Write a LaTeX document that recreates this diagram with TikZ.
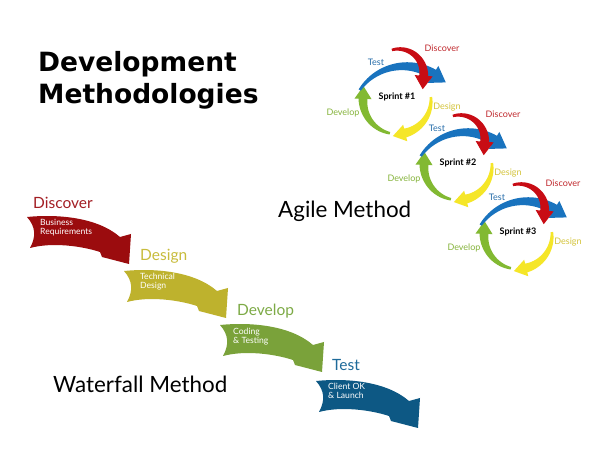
\documentclass[tikz,border=0pt]{standalone}
\usepackage{fontspec}
\setmainfont{Lato}
\newfontfamily\titlefont{DejaVu Sans}
\definecolor{wfred}{RGB}{155,12,14}
\definecolor{wfredl}{RGB}{163,30,36}
\definecolor{wfolive}{RGB}{190,178,45}
\definecolor{wfolivel}{RGB}{200,188,60}
\definecolor{wfgreen}{RGB}{122,162,58}
\definecolor{wfgreenl}{RGB}{125,170,70}
\definecolor{wfblue}{RGB}{13,88,132}
\definecolor{wfbluel}{RGB}{30,106,154}
\definecolor{agblue}{RGB}{25,115,190}
\definecolor{agred}{RGB}{200,12,20}
\definecolor{agyellow}{RGB}{245,230,40}
\definecolor{aggreen}{RGB}{130,185,50}
\definecolor{agbluel}{RGB}{40,110,170}
\definecolor{agredl}{RGB}{192,40,45}
\definecolor{agyellowl}{RGB}{212,196,58}
\definecolor{aggreenl}{RGB}{134,180,60}
% tapered arc arrow: color, cx, cy, r, a1, a2, w0, w1, head half width
\newcommand\agarrow[9]{%
 \fill[#1] plot[domain=0:1,samples=25,variable=\t]
   ({#2+(#4+(#7+(#8-#7)*\t)/2)*cos(#5+(#6-#5)*\t)},{#3+(#4+(#7+(#8-#7)*\t)/2)*sin(#5+(#6-#5)*\t)})
 -- ({#2+(#4+#9)*cos(#6)},{#3+(#4+#9)*sin(#6)})
 -- ({#2+#4*cos(#6)+1.5*#9*cos(#6-90)},{#3+#4*sin(#6)+1.5*#9*sin(#6-90)})
 -- ({#2+(#4-#9)*cos(#6)},{#3+(#4-#9)*sin(#6)})
 -- plot[domain=1:0,samples=25,variable=\t]
   ({#2+(#4-(#7+(#8-#7)*\t)/2)*cos(#5+(#6-#5)*\t)},{#3+(#4-(#7+(#8-#7)*\t)/2)*sin(#5+(#6-#5)*\t)})
 -- cycle;}
\tikzset{
  wfarrow/.pic={\fill[#1] (0,0) .. controls (30,3) and (70,0) .. (93,-20) -- (104,-17)
     -- (102,-47) -- (75,-40) -- (73,-35) .. controls (55,-29) and (25,-25) .. (3,-31)
     .. controls (9,-20) and (9,-10) .. (0,0) -- cycle;},
  wflabel/.style={anchor=base west, inner sep=0, font=\fontsize{15.5}{17}\selectfont},
  wfinner/.style={anchor=north west, inner sep=0, align=left, text=white, font=\fontsize{8.6}{9}\selectfont},
  aglabel/.style={inner sep=0, font=\fontsize{9}{10}\selectfont},
  bigtitle/.style={anchor=base west, inner sep=0, font=\titlefont\bfseries\fontsize{26.5}{30}\selectfont},
  method/.style={anchor=base west, inner sep=0, font=\fontsize{22.4}{26}\selectfont},
  sprint/.pic={
    \agarrow{aggreen}{0}{-3}{34}{258}{178}{2.5}{9}{8.5}
    \agarrow{agblue}{7.45}{-23.25}{54}{146}{58}{2.5}{11}{10}
    \agarrow{agyellow}{0}{-3}{34}{5}{-76}{2.5}{9}{8.5}
    \agarrow{agred}{1.75}{23}{25}{106}{-4}{2.5}{9}{9}
    \node[aglabel, text=black, font=\fontsize{9}{10}\selectfont\bfseries] (-sp) at (0,0) {Sprint \##1};
    \node[aglabel, text=agbluel] (-te) at (-21,35) {Test};
    \node[aglabel, text=agredl] (-di) at (45,49) {Discover};
    \node[aglabel, text=agyellowl] (-de) at (50,-10) {Design};
    \node[aglabel, text=aggreenl] (-dv) at (-54,-16) {Develop};
  }
}
\begin{document}
\begin{tikzpicture}[x=1pt,y=1pt]
\useasboundingbox (0,0) rectangle (600,450);
\fill[white] (0,0) rectangle (600,450);
% title
\node[bigtitle] (t1) at (38,378) {Development};
\node[bigtitle] (t2) at (38,346) {Methodologies};
% waterfall
\pic at (27,233) {wfarrow=wfred};
\pic at (124,179) {wfarrow=wfolive};
\pic at (220,125) {wfarrow=wfgreen};
\pic at (316,69) {wfarrow=wfblue};
\node[wflabel, text=wfredl] (l1) at (33,241) {Discover};
\node[wflabel, text=wfolivel] (l2) at (140,189) {Design};
\node[wflabel, text=wfgreenl] (l3) at (237,134) {Develop};
\node[wflabel, text=wfbluel] (l4) at (332,79) {Test};
\node[wfinner] (i1) at (40,231) {Business\\Requirements};
\node[wfinner] (i2) at (140,177) {Technical\\Design};
\node[wfinner] (i3) at (233,122) {Coding\\\& Testing};
\node[wfinner] (i4) at (328,67) {Client OK\\\& Launch};
\node[method] (wm) at (53,57) {Waterfall Method};
% agile
\pic (s1) at (397,353) {sprint=1};
\pic (s2) at (458,287) {sprint=2};
\pic (s3) at (518,218) {sprint=3};
\node[method] (am) at (278,232) {Agile Method};
\end{tikzpicture}
\end{document}
